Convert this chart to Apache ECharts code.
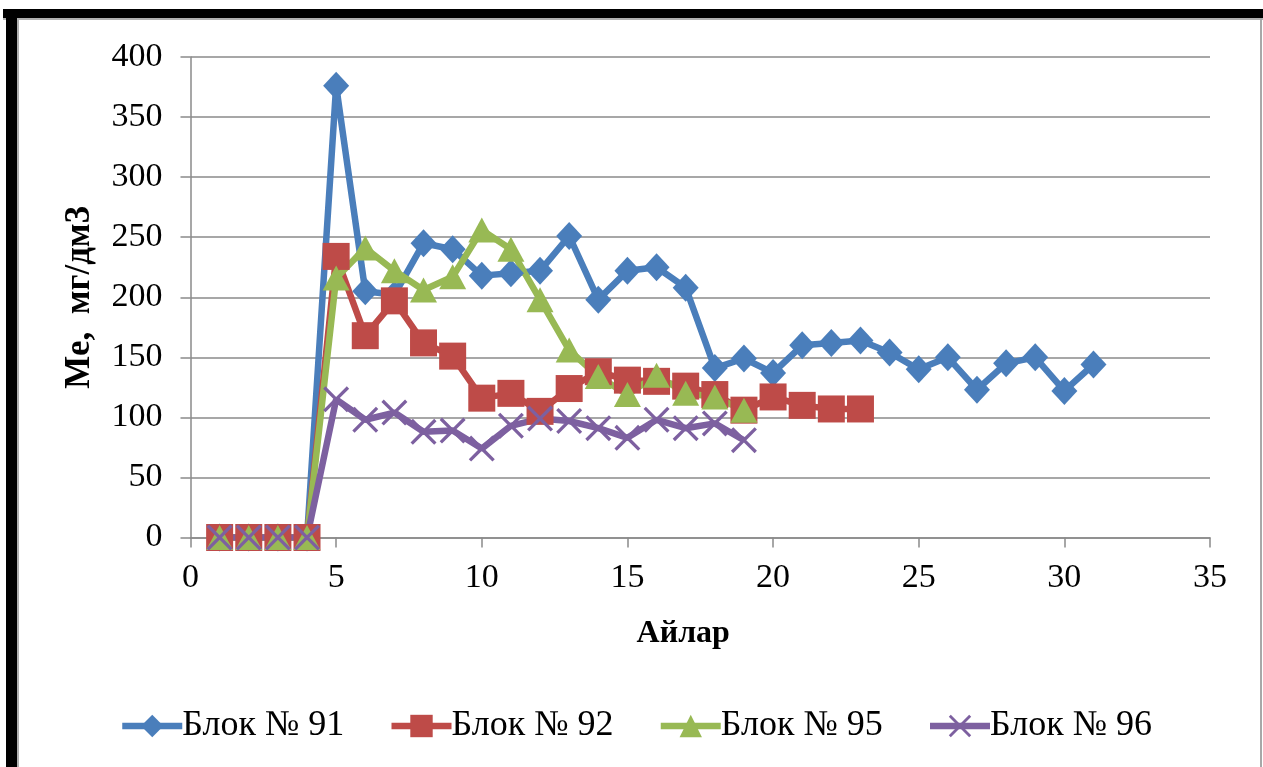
<!DOCTYPE html>
<html>
<head>
<meta charset="utf-8">
<script src="https://cdn.jsdelivr.net/npm/echarts@6/dist/echarts.min.js"></script>
<style>
  html, body { margin: 0; padding: 0; background: #ffffff; }
  #chart { width: 1263px; height: 767px; }
</style>
</head>
<body>
<div id="chart"></div>
<script>
// Months (x) and measured concentrations (mg/dm3) for each block
const monthsBlock91 = [1,2,3,4,5,6,7,8,9,10,11,12,13,14,15,16,17,18,19,20,21,22,23,24,25,26,27,28,29,30,31];
const block91 = [0,0,0,0,376,205,202,245,240,218,220,222,251,198,222,225,208,141,149,137,160,162,164,154,140,150,123,145,150,122,144];

const monthsBlock92 = [1,2,3,4,5,6,7,8,9,10,11,12,13,14,15,16,17,18,19,20,21,22,23];
const block92 = [0,0,0,0,234,168,197,162,151,116,120,105,124,138,131,130,126,119,106,117,110,107,107];

const monthsBlock95 = [1,2,3,4,5,6,7,8,9,10,11,12,13,14,15,16,17,18,19];
const block95 = [0,0,0,0,216,241,222,206,217,256,240,198,156,134,119,135,120,117,106];

const monthsBlock96 = [1,2,3,4,5,6,7,8,9,10,11,12,13,14,15,16,17,18,19];
const block96 = [0,0,0,0,115,98,104,88,89,74,93,99,97,91,83,98,91,95,81];

const seriesNames = ['Блок № 91', 'Блок № 92', 'Блок № 95', 'Блок № 96'];
const xTicks = { min: 0, max: 35, step: 5 };
const yTicks = { min: 0, max: 400, step: 50 };

const pairs = (xs, ys) => xs.map((x, i) => [x, ys[i]]);

// thin "x" marker
const crossPath = 'path://M0,9 L9,0 L50,41 L91,0 L100,9 L59,50 L100,91 L91,100 L50,59 L9,100 L0,91 L41,50 Z';

const serif = '"Liberation Serif", "Times New Roman", serif';
const gridColor = '#8a8a8a';

const chart = echarts.init(document.getElementById('chart'), null, { renderer: 'canvas' });

function lineSeries(name, data, color, symbol, size) {
  return {
    name: name,
    type: 'line',
    data: data,
    symbol: symbol,
    symbolSize: size,
    showAllSymbol: true,
    lineStyle: { color: color, width: 6.5 },
    itemStyle: { color: color, borderColor: color, borderWidth: 0 },
    emphasis: { disabled: true },
    animation: false
  };
}

chart.setOption({
  backgroundColor: '#ffffff',
  animation: false,
  grid: { left: 190.5, right: 53, top: 57, bottom: 229.5, containLabel: false },
  xAxis: {
    type: 'value',
    min: xTicks.min, max: xTicks.max, interval: xTicks.step,
    name: 'Айлар',
    nameLocation: 'middle',
    nameGap: 80,
    nameTextStyle: { fontFamily: serif, fontWeight: 'bold', fontSize: 32, color: '#000', padding: [0, 34, 0, 0] },
    axisLine: { show: true, lineStyle: { color: gridColor, width: 1.5 } },
    axisTick: { show: true, inside: false, length: 10, lineStyle: { color: gridColor, width: 1.5 } },
    axisLabel: { fontFamily: serif, fontSize: 34, color: '#000', margin: 24 },
    splitLine: { show: false }
  },
  yAxis: {
    type: 'value',
    min: yTicks.min, max: yTicks.max, interval: yTicks.step,
    name: 'Ме,  мг/дм3',
    nameLocation: 'middle',
    nameGap: 93,
    nameRotate: 90,
    nameTextStyle: { fontFamily: serif, fontWeight: 'bold', fontSize: 35, color: '#000' },
    axisLine: { show: true, lineStyle: { color: gridColor, width: 1.5 } },
    axisTick: { show: true, inside: false, length: 10, lineStyle: { color: gridColor, width: 1.5 } },
    axisLabel: { fontFamily: serif, fontSize: 34, color: '#000', margin: 28 },
    splitLine: { show: true, lineStyle: { color: gridColor, width: 1.5 } }
  },
  legend: {
    left: 114,
    top: 703,
    itemWidth: 60,
    itemHeight: 28,
    itemGap: 44,
    lineStyle: { width: 6.5 },
    textStyle: { fontFamily: serif, fontSize: 36, color: '#000', padding: [0, 0, 0, -5] },
    data: seriesNames
  },
  graphic: [
    { type: 'rect', shape: { x: 3, y: 9, width: 1260, height: 9 }, style: { fill: '#000' }, silent: true },
    { type: 'rect', shape: { x: 3, y: 18, width: 1260, height: 2 }, style: { fill: '#b0b0b0' }, silent: true },
    { type: 'rect', shape: { x: 6, y: 9, width: 11, height: 758 }, style: { fill: '#000' }, silent: true },
    { type: 'rect', shape: { x: 17, y: 18, width: 2, height: 749 }, style: { fill: '#b0b0b0' }, silent: true },
    { type: 'rect', shape: { x: 1260, y: 18, width: 2, height: 749 }, style: { fill: '#a8a8a8' }, silent: true }
  ],
  series: [
    lineSeries(seriesNames[0], pairs(monthsBlock91, block91), '#4a7ebb', 'diamond', [26, 28]),
    lineSeries(seriesNames[1], pairs(monthsBlock92, block92), '#be4b48', 'rect', 27),
    lineSeries(seriesNames[2], pairs(monthsBlock95, block95), '#98b954', 'triangle', [27, 25]),
    lineSeries(seriesNames[3], pairs(monthsBlock96, block96), '#7d60a0', crossPath, 26)
  ]
});
</script>
</body>
</html>
